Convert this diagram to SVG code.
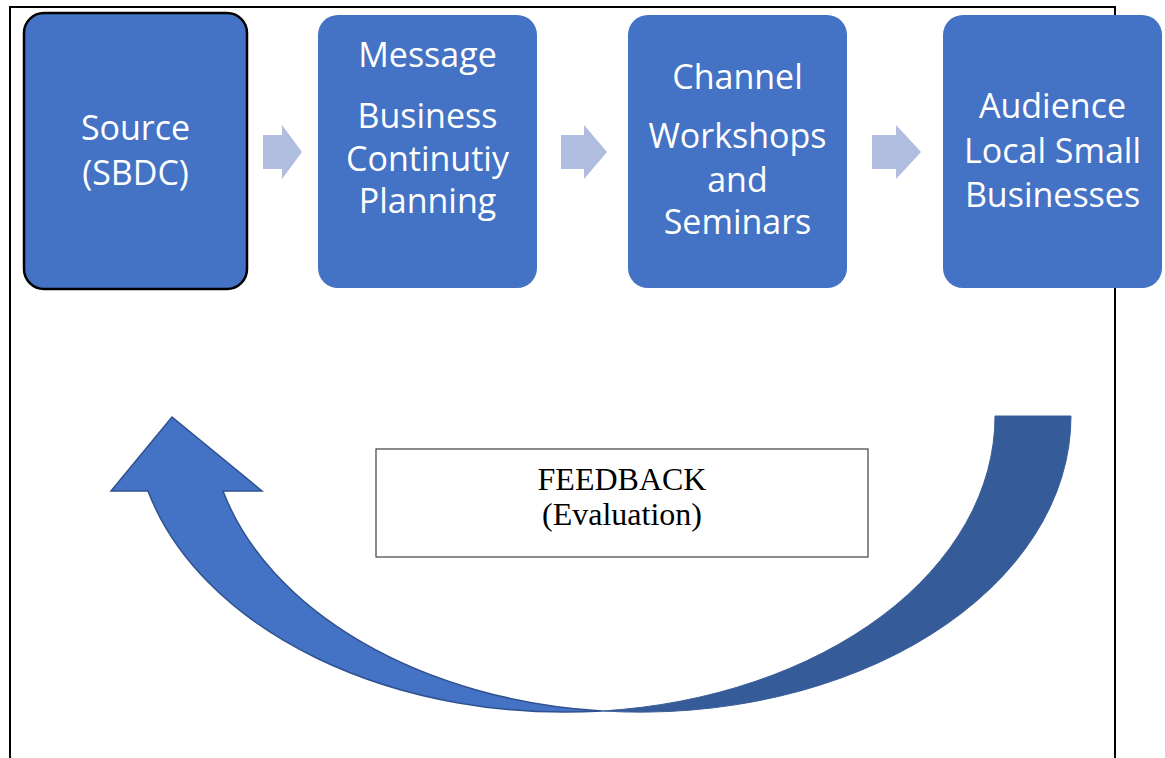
<svg xmlns="http://www.w3.org/2000/svg" width="1165" height="758" viewBox="0 0 1165 758">
  <style>
    .box { fill: #4472C4; }
    .src { stroke: #000000; stroke-width: 2.5; }
    .lbl { font-family: "Open Sans", "Noto Sans", sans-serif; font-size: 34px; fill: #FFFFFF; text-anchor: middle; }
    .step { fill: #B0BDDF; }
    .frame { stroke: #000000; stroke-width: 2; fill: none; }
    .fb { font-family: "Liberation Serif", "Times New Roman", serif; font-size: 32px; fill: #000000; text-anchor: middle; }
  </style>
  <rect width="1165" height="758" fill="#FFFFFF"/>

  <g id="frame">
    <polyline class="frame" points="10,758 10,7 1115,7 1115,758"/>
  </g>

  <g id="connectors">
    <polygon class="step" points="263,135 282,135 282,125 302,152 282,179 282,169 263,169"/>
    <polygon class="step" points="561,135 584,135 584,125 607,152 584,179 584,169 561,169"/>
    <polygon class="step" points="872,135 896,135 896,125 921,152 896,179 896,169 872,169"/>
    <g id="feedback-arrow">
      <path d="M1071,416 A431,296 0 0 1 602,711 A431,296 0 0 0 995,416 Z" fill="#355C99" stroke="#3A5E98" stroke-width="1"/>
      <path d="M148,491 A431,296 0 0 0 602,711 A431,296 0 0 1 223,491 L262,491 L172,417 L111,491 Z" fill="#4472C4" stroke="#2F528F" stroke-width="1.5" stroke-linejoin="miter"/>
    </g>
  </g>

  <g id="source">
    <rect class="box src" x="24" y="13" width="223" height="276" rx="20"/>
    <text class="lbl" x="135.5" y="140">Source</text>
    <text class="lbl" x="135.5" y="185">(SBDC)</text>
  </g>

  <g id="message">
    <rect class="box" x="318" y="15" width="219" height="273" rx="20"/>
    <text class="lbl" x="427.5" y="67">Message</text>
    <text class="lbl" x="427.5" y="128">Business</text>
    <text class="lbl" x="427.5" y="171">Continutiy</text>
    <text class="lbl" x="427.5" y="213">Planning</text>
  </g>

  <g id="channel">
    <rect class="box" x="628" y="15" width="219" height="273" rx="20"/>
    <text class="lbl" x="737.5" y="89">Channel</text>
    <text class="lbl" x="737.5" y="148">Workshops</text>
    <text class="lbl" x="737.5" y="192">and</text>
    <text class="lbl" x="737.5" y="234">Seminars</text>
  </g>

  <g id="audience">
    <rect class="box" x="943" y="15" width="219" height="273" rx="20"/>
    <text class="lbl" x="1052.5" y="118">Audience</text>
    <text class="lbl" x="1052.5" y="163">Local Small</text>
    <text class="lbl" x="1052.5" y="207">Businesses</text>
  </g>

  <g id="feedback">
    <rect x="376" y="449" width="492" height="108" fill="#FFFFFF" stroke="#404040" stroke-width="1.2"/>
    <text class="fb" x="622" y="490">FEEDBACK</text>
    <text class="fb" x="622" y="525">(Evaluation)</text>
  </g>
</svg>
